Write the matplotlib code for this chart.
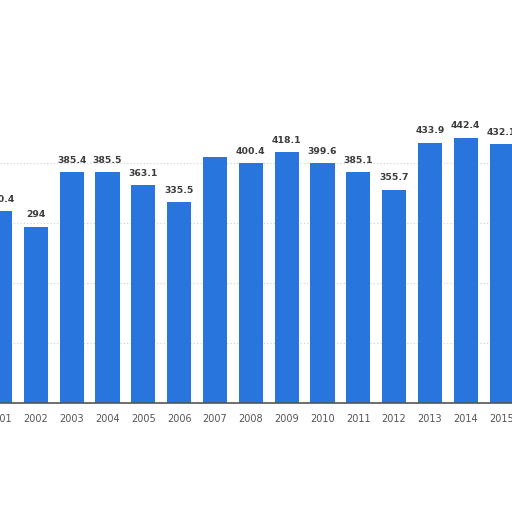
import numpy as np
import matplotlib
matplotlib.use('Agg')
import matplotlib.pyplot as plt

# values (2007 label is hidden in the reference)
years = [2001, 2002, 2003, 2004, 2005, 2006, 2007, 2008,
         2009, 2010, 2011, 2012, 2013, 2014, 2015]
values = [320.4, 294, 385.4, 385.5, 363.1, 335.5, 410.6, 400.4,
          418.1, 399.6, 385.1, 355.7, 433.9, 442.4, 432.1]
labels = ['320.4', '294', '385.4', '385.5', '363.1', '335.5', '', '400.4',
          '418.1', '399.6', '385.1', '355.7', '433.9', '442.4', '432.1']
grid_ticks = [100, 200, 300, 400]

fig = plt.figure(figsize=(5.12, 5.12), dpi=100)
ax = fig.add_axes([0, 109/512, 1, 403/512])

ax.bar(years, values, width=0.675, color='#2876dd', zorder=2)

for x, v, t in zip(years, values, labels):
    ax.text(x, v + 12, t, ha='center', va='bottom', fontsize=6.7,
            fontweight='bold', color='#3c3c3c', clip_on=False)

ax.set_xlim(2001.09, 2015.29)
ax.set_ylim(0, 403 / 0.6)
ax.set_yticks(grid_ticks)
ax.yaxis.grid(True, linestyle=(0, (1, 2)), color='#cfcfcf', linewidth=0.8, zorder=0)
ax.tick_params(axis='y', left=False, labelleft=False)
ax.set_xticks(years)
ax.set_xticklabels([str(y) for y in years])
ax.tick_params(axis='x', length=0, pad=8, labelsize=7, labelcolor='#555555')

for s in ['top', 'right', 'left']:
    ax.spines[s].set_visible(False)
ax.spines['bottom'].set_color('#555555')
ax.spines['bottom'].set_linewidth(1.2)

fig.savefig('out.png', dpi=100)
